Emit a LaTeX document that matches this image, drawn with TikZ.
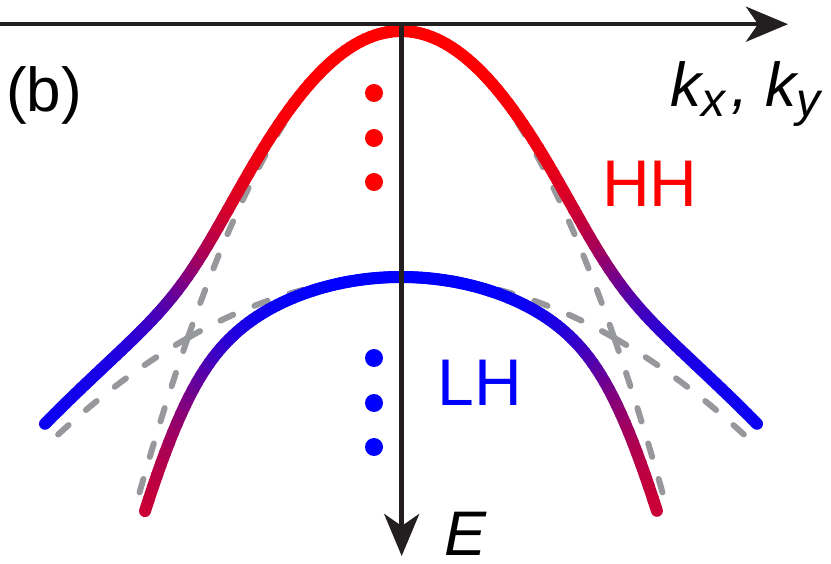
\documentclass[tikz,border=0pt]{standalone}
\usepackage{fontspec}
\setmainfont{Liberation Sans}
\usetikzlibrary{arrows.meta}
\definecolor{axiscol}{RGB}{35,31,32}
\definecolor{dashcol}{RGB}{151,152,156}
\definecolor{hhred}{RGB}{255,0,0}
\definecolor{lhblue}{RGB}{0,0,255}
\begin{document}
\begin{tikzpicture}[x=100pt,y=-100pt,
  declare function={
    yn(\q)=0.31+0.675*\q*\q;
    yw(\q)=2.77+0.134*\q*\q;
    dd(\q)=(yn(\q)-yw(\q))/2;
    mm(\q)=(yn(\q)+yw(\q))/2;
    ss(\q)=sqrt(dd(\q)*dd(\q)+0.0841*\q*\q);
    yo(\q)=mm(\q)-ss(\q);
    yi(\q)=mm(\q)+ss(\q);
    wo(\q)=50*(1-dd(\q)/ss(\q));
    wi(\q)=50*(1+dd(\q)/ss(\q));
  },
  band/.style={line width=12pt,line cap=round},
  guide/.style={dashcol,line width=6pt,line cap=round,dash pattern=on 14pt off 23pt},
  axisline/.style={axiscol,line width=4.6pt,-{Stealth[length=42pt,width=35pt,inset=12pt]}},
  dot/.style={circle,inner sep=0pt,minimum size=18pt},
  lbl/.style={inner sep=0pt,font=\fontsize{66}{70}\selectfont}
]
\useasboundingbox (0,0) rectangle (8.31,5.64);

% dashed (uncoupled) parabolas, dashes starting at the crossing
\foreach \sg in {-1,1}{
  \draw[guide] plot[domain=0:0.49,samples=40,smooth] ({4.01+\sg*(2.132+\x)},{yn(2.132+\x)});
  \draw[guide] plot[domain=0:2.132,samples=80,smooth] ({4.01+\sg*(2.132-\x)},{yn(2.132-\x)});
  \draw[guide] plot[domain=0:1.358,samples=60,smooth] ({4.01+\sg*(2.132+\x)},{yw(2.132+\x)});
  \draw[guide] plot[domain=0:2.132,samples=80,smooth] ({4.01+\sg*(2.132-\x)},{yw(2.132-\x)});
}

% inner band (LH at top)
\foreach \i in {0,...,127}{
  \pgfmathsetmacro\ta{-2.56+\i*0.04}
  \pgfmathsetmacro\tb{\ta+0.04}
  \pgfmathsetmacro\tm{\ta+0.02}
  \pgfmathsetmacro\w{wi(\tm)}
  \draw[band,red!\w!blue] ({4.01+\ta},{yi(\ta)}) -- ({4.01+\tb},{yi(\tb)});
}

% outer band (HH at top)
\foreach \i in {0,...,139}{
  \pgfmathsetmacro\ta{-3.56+\i*0.05086}
  \pgfmathsetmacro\tb{\ta+0.05086}
  \pgfmathsetmacro\tm{\ta+0.02543}
  \pgfmathsetmacro\w{wo(\tm)}
  \draw[band,red!\w!blue] ({4.01+\ta},{yo(\ta)}) -- ({4.01+\tb},{yo(\tb)});
}

% dots
\node[dot,fill=hhred] (r1) at (3.74,0.93) {};
\node[dot,fill=hhred] (r2) at (3.74,1.38) {};
\node[dot,fill=hhred] (r3) at (3.74,1.82) {};
\node[dot,fill=lhblue] (b1) at (3.74,3.58) {};
\node[dot,fill=lhblue] (b2) at (3.74,4.03) {};
\node[dot,fill=lhblue] (b3) at (3.74,4.47) {};

% labels
\node[lbl,text=hhred,anchor=base] (hh) at (6.50,2.07) {HH};
\node[lbl,text=lhblue,anchor=base] (lh) at (4.80,4.06) {LH};
\node[lbl,anchor=base,font=\fontsize{63}{70}\selectfont\itshape] (elab) at (4.66,5.55) {E};
\node[lbl,anchor=base west,font=\fontsize{62}{64}\selectfont] (tag) at (0.06,1.12) {(b)};
\node[lbl,anchor=base west,font=\fontsize{62}{70}\selectfont\itshape] (klab) at (6.70,1.07)
  {k\raisebox{-10pt}{\fontsize{48}{50}\selectfont x}\kern6pt, k\raisebox{-10pt}{\fontsize{48}{50}\selectfont y}};

% axes
\coordinate (xs) at (0,0.242);
\coordinate (xe) at (7.88,0.242);
\coordinate (ys) at (4.017,0.242);
\coordinate (ye) at (4.017,5.56);
\draw[axisline] (xs) -- (xe);
\draw[axisline] (ys) -- (ye);
\end{tikzpicture}
\end{document}
